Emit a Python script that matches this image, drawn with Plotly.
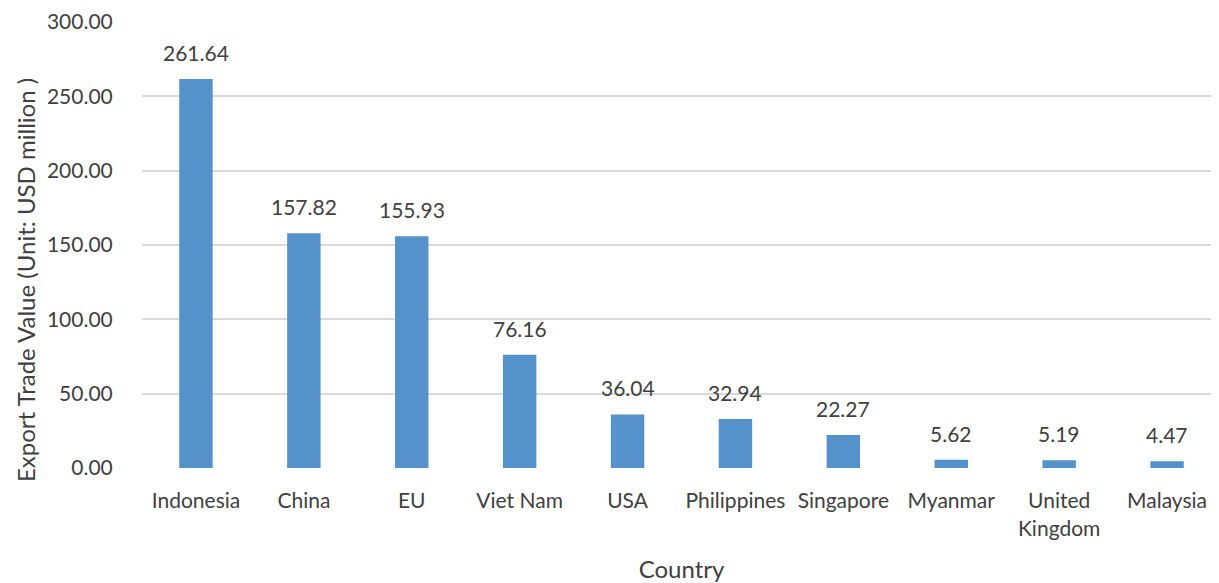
import plotly.graph_objects as go

countries = ["Indonesia", "China", "EU", "Viet Nam", "USA", "Philippines",
             "Singapore", "Myanmar", "United<br>Kingdom", "Malaysia"]
values = [261.64, 157.82, 155.93, 76.16, 36.04, 32.94, 22.27, 5.62, 5.19, 4.47]
y_ticks = [0, 50, 100, 150, 200, 250, 300]

font_family = "Lato, Open Sans, sans-serif"
text_color = "#404040"
x_pos = list(range(len(countries)))

fig = go.Figure(go.Bar(
    x=x_pos,
    y=values,
    width=0.31,
    marker=dict(color="#5592CC", line=dict(width=0)),
    hoverinfo="x+y",
))

# value labels above the bars
for xi, v in zip(x_pos, values):
    fig.add_annotation(x=xi, y=v, text=f"{v:.2f}", showarrow=False,
                       yanchor="bottom", yshift=12,
                       font=dict(size=21, color=text_color, family=font_family))

# y axis title placed by hand, closer to the edge than the axis title allows
fig.add_annotation(x=0, y=0.5, xref="paper", yref="paper", xanchor="center",
                   xshift=-117, yshift=-35, textangle=-90, showarrow=False,
                   text="Export Trade Value (Unit: USD million )",
                   font=dict(size=24, color=text_color, family=font_family))

# the page body has an 8px margin, so margins are trimmed by 8 on left/top
fig.update_layout(
    width=1219, height=583,
    margin=dict(l=134, r=6, t=14, b=123),
    plot_bgcolor="white", paper_bgcolor="white",
    font=dict(family=font_family, size=21, color=text_color),
    showlegend=False,
    xaxis=dict(
        range=[-0.5, 9.5],
        tickmode="array",
        tickvals=x_pos,
        ticktext=countries,
        ticks="outside", ticklen=14, tickcolor="rgba(0,0,0,0)",
        ticklabeloverflow="allow",
        showgrid=False, zeroline=False,
        showline=False, automargin=False,
        title=dict(text="Country", standoff=22, font=dict(size=24)),
    ),
    yaxis=dict(
        range=[0, 300],
        tickvals=y_ticks,
        tickformat=".2f",
        ticks="outside", ticklen=24, tickcolor="rgba(0,0,0,0)",
        showgrid=True, gridcolor="#D9D9D9", gridwidth=2,
        zeroline=False,
        showline=False, automargin=False,
    ),
)

fig.write_html("out.html")
